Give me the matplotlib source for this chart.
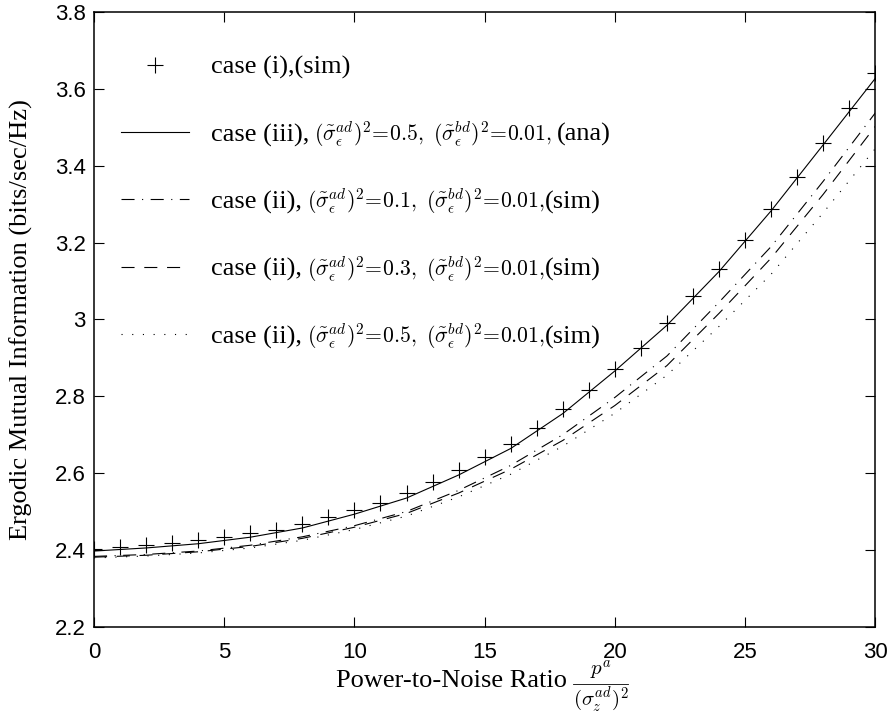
import matplotlib
matplotlib.use("Agg")
import matplotlib.pyplot as plt
from matplotlib.lines import Line2D
from matplotlib.ticker import FuncFormatter

plt.rcParams['mathtext.fontset'] = 'cm'
plt.rcParams['lines.scale_dashes'] = False

# ---- dados ----
x_sim = list(range(0, 31))
mi_case1 = [2.402, 2.408, 2.413, 2.418, 2.425, 2.433, 2.443, 2.453, 2.467, 2.485, 2.505,
            2.523, 2.549, 2.578, 2.608, 2.641, 2.677, 2.718, 2.766, 2.816, 2.871,
            2.925, 2.992, 3.061, 3.132, 3.208, 3.289, 3.372, 3.460, 3.550, 3.641]

x_curve = [0, 2, 4, 6, 8, 10, 12, 14, 16, 18, 20, 22, 24, 26, 28, 30]
mi_case3_ana = [2.397, 2.405, 2.416, 2.433, 2.457, 2.493, 2.535, 2.595, 2.664, 2.755,
                2.866, 2.985, 3.125, 3.283, 3.455, 3.628]
mi_case2_01 = [2.383, 2.388, 2.397, 2.412, 2.434, 2.463, 2.500, 2.555, 2.620, 2.700,
               2.797, 2.905, 3.045, 3.190, 3.360, 3.538]
mi_case2_03 = [2.381, 2.386, 2.395, 2.409, 2.430, 2.459, 2.495, 2.548, 2.610, 2.685,
               2.776, 2.880, 3.016, 3.160, 3.326, 3.503]
mi_case2_05 = [2.379, 2.384, 2.392, 2.405, 2.425, 2.453, 2.488, 2.538, 2.597, 2.670,
               2.756, 2.855, 2.982, 3.118, 3.278, 3.445]

labels_big = ["case (i),(sim)", "case (iii),", "case (ii),", "case (ii),", "case (ii),"]
labels_math = [None,
               r"$(\tilde{\sigma}_{\epsilon}^{ad})^2\!=\!0.5,\ (\tilde{\sigma}_{\epsilon}^{bd})^2\!=\!0.01,$",
               r"$(\tilde{\sigma}_{\epsilon}^{ad})^2\!=\!0.1,\ (\tilde{\sigma}_{\epsilon}^{bd})^2\!=\!0.01,$",
               r"$(\tilde{\sigma}_{\epsilon}^{ad})^2\!=\!0.3,\ (\tilde{\sigma}_{\epsilon}^{bd})^2\!=\!0.01,$",
               r"$(\tilde{\sigma}_{\epsilon}^{ad})^2\!=\!0.5,\ (\tilde{\sigma}_{\epsilon}^{bd})^2\!=\!0.01,$"]
labels_tail = [None, "(ana)", "(sim)", "(sim)", "(sim)"]

serif = "Liberation Serif"
sans = "Liberation Sans"
fs_leg = 19
fs_math = 15.6

fig = plt.figure(figsize=(8.92, 7.14), dpi=100)
ax = fig.add_axes([0.1054, 0.1223, 0.8759, 0.8605])

lw = 0.8
ax.plot(x_sim, mi_case1, linestyle='none', marker='+', color='k', markersize=12, markeredgewidth=0.8)
ax.plot(x_curve, mi_case3_ana, color='k', linewidth=lw)
ax.plot(x_curve, mi_case2_01, color='k', linewidth=lw, linestyle=(0, (9.4, 5.4, 0.8, 5.4)))
ax.plot(x_curve, mi_case2_03, color='k', linewidth=lw, linestyle=(0, (9.4, 7.0)))
ax.plot(x_curve, mi_case2_05, color='k', linewidth=lw, linestyle=(0, (0.8, 6.9)))

ax.set_xlim(0, 30)
ax.set_ylim(2.2, 3.8)
ax.set_xticks(range(0, 31, 5))
ax.set_yticks([2.2, 2.4, 2.6, 2.8, 3.0, 3.2, 3.4, 3.6, 3.8])
ax.yaxis.set_major_formatter(FuncFormatter(lambda v, p: "%g" % round(v, 2)))
ax.tick_params(direction='in', top=True, right=True, length=7, width=0.8, labelsize=16)
ax.tick_params(axis='x', pad=11)
ax.tick_params(axis='y', pad=6)
for t in ax.get_xticklabels() + ax.get_yticklabels():
    t.set_family(sans)
for s in ax.spines.values():
    s.set_linewidth(1.1)

# rótulos dos eixos
ax.set_xlabel("Power-to-Noise Ratio", family=serif, fontsize=19)
ax.xaxis.set_label_coords(0.4576, -0.07)
ax.set_ylabel("Ergodic Mutual Information (bits/sec/Hz)", family=serif, fontsize=19)
ax.yaxis.set_label_coords(-0.078, 0.5)

# fração p^a / (sigma_z^ad)^2 montada em partes
den = ax.annotate(r"$(\sigma_z^{ad})^2$", xy=(1, 0), xycoords=ax.xaxis.label,
                  xytext=(4, 4.5), textcoords='offset points', va='top', ha='left',
                  fontsize=15, zorder=6)
num = ax.annotate(r"$p^a$", xy=(0.5, 1), xycoords=den,
                  xytext=(0, 2.5), textcoords='offset points', va='bottom', ha='center',
                  fontsize=15, zorder=7)

handles = [
    Line2D([], [], linestyle='none', marker='+', color='k', markersize=12, markeredgewidth=0.8),
    Line2D([], [], color='k', linewidth=lw),
    Line2D([], [], color='k', linewidth=lw, linestyle=(0, (9.4, 5.4, 0.8, 5.4))),
    Line2D([], [], color='k', linewidth=lw, linestyle=(0, (9.4, 7.0))),
    Line2D([], [], color='k', linewidth=lw, linestyle=(0, (0.8, 6.9))),
]
leg = ax.legend(handles, labels_big, loc='upper left', bbox_to_anchor=(0.034, 0.93),
                frameon=False, borderpad=0, borderaxespad=0, handlelength=2.6,
                handletextpad=0.81, labelspacing=1.65, prop={'family': serif, 'size': fs_leg})

# partes matematicas (menores) depois do texto da legenda
for txt, m, tail in zip(leg.get_texts(), labels_math, labels_tail):
    if m is None:
        continue
    a1 = ax.annotate(m, xy=(1, 0), xycoords=txt, xytext=(4, 4.1), textcoords='offset points',
                     va='baseline', ha='left', fontsize=fs_math, zorder=6)
    a2 = ax.annotate(tail, xy=(1, 0), xycoords=(a1, txt), xytext=(3 if tail == "(ana)" else 0, 4.1),
                     textcoords='offset points', va='baseline', ha='left',
                     family=serif, fontsize=fs_leg, zorder=7)

# traço da fração (posição medida depois de desenhar)
fig.canvas.draw()
r = fig.canvas.get_renderer()
bb = den.get_window_extent(r)
W, H = fig.bbox.width, fig.bbox.height
ybar = bb.y1 + 1.5
fig.add_artist(Line2D([bb.x0 / W, bb.x1 / W], [ybar / H, ybar / H], color='k',
                      linewidth=0.6, transform=fig.transFigure))

fig.savefig("out.png", dpi=100)
